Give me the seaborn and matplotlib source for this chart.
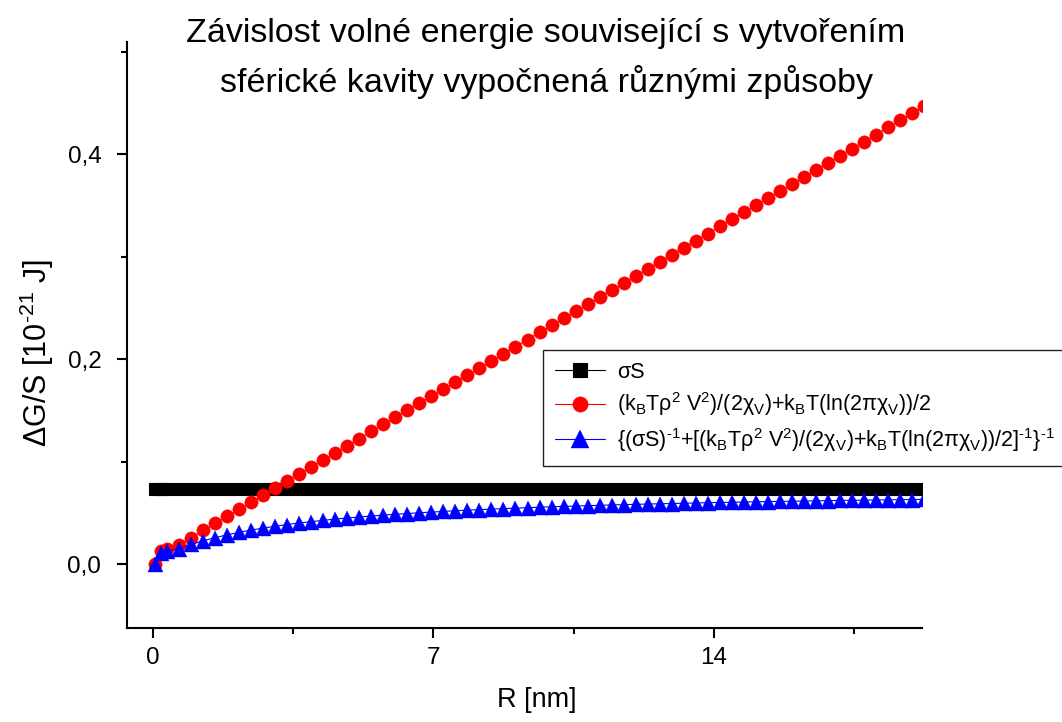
import matplotlib
matplotlib.use("Agg")
import matplotlib.pyplot as plt
import seaborn as sns
import pandas as pd

# Cavity radius [nm]
radius_nm = [
    0.05, 0.2, 0.35, 0.65, 0.95, 1.25, 1.55, 1.85, 2.15, 2.45, 2.75,
    3.05, 3.35, 3.65, 3.95, 4.25, 4.55, 4.85, 5.15, 5.45, 5.75, 6.05,
    6.35, 6.65, 6.95, 7.25, 7.55, 7.85, 8.15, 8.45, 8.75, 9.05, 9.35,
    9.65, 9.95, 10.25, 10.55, 10.85, 11.15, 11.45, 11.75, 12.05, 12.35,
    12.65, 12.95, 13.25, 13.55, 13.85, 14.15, 14.45, 14.75, 15.05, 15.35,
    15.65, 15.95, 16.25, 16.55, 16.85, 17.15, 17.45, 17.75, 18.05, 18.35,
    18.65, 18.95, 19.25,
]

# Surface term sigma*S per unit area [1e-21 J]
sigma_s = [
    0.0735, 0.0735, 0.0735, 0.0735, 0.0735, 0.0735, 0.0735, 0.0735, 0.0735, 0.0735, 0.0735,
    0.0735, 0.0735, 0.0735, 0.0735, 0.0735, 0.0735, 0.0735, 0.0735, 0.0735, 0.0735, 0.0735,
    0.0735, 0.0735, 0.0735, 0.0735, 0.0735, 0.0735, 0.0735, 0.0735, 0.0735, 0.0735, 0.0735,
    0.0735, 0.0735, 0.0735, 0.0735, 0.0735, 0.0735, 0.0735, 0.0735, 0.0735, 0.0735, 0.0735,
    0.0735, 0.0735, 0.0735, 0.0735, 0.0735, 0.0735, 0.0735, 0.0735, 0.0735, 0.0735, 0.0735,
    0.0735, 0.0735, 0.0735, 0.0735, 0.0735, 0.0735, 0.0735, 0.0735, 0.0735, 0.0735, 0.0735,
]

# Gaussian fluctuation (volume) term
volume_term = [
    0.0, 0.013, 0.015, 0.0190, 0.0259, 0.0328, 0.0397, 0.0466, 0.0535, 0.0604, 0.0673,
    0.0742, 0.0811, 0.0880, 0.0949, 0.1018, 0.1087, 0.1156, 0.1225, 0.1294, 0.1363, 0.1432,
    0.1501, 0.1570, 0.1639, 0.1708, 0.1777, 0.1846, 0.1915, 0.1984, 0.2053, 0.2122, 0.2191,
    0.2260, 0.2329, 0.2398, 0.2467, 0.2536, 0.2605, 0.2674, 0.2743, 0.2812, 0.2881, 0.2950,
    0.3019, 0.3088, 0.3157, 0.3226, 0.3295, 0.3364, 0.3433, 0.3502, 0.3571, 0.3640, 0.3709,
    0.3778, 0.3847, 0.3916, 0.3985, 0.4054, 0.4123, 0.4192, 0.4261, 0.4330, 0.4399, 0.4468,
]

# Interpolated (harmonic) combination of both terms
combined = [
    0.0, 0.011, 0.0125, 0.0151, 0.0192, 0.0227, 0.0258, 0.0285, 0.0310, 0.0332, 0.0351,
    0.0369, 0.0386, 0.0401, 0.0414, 0.0427, 0.0439, 0.0449, 0.0459, 0.0469, 0.0478, 0.0486,
    0.0493, 0.0501, 0.0507, 0.0514, 0.0520, 0.0526, 0.0531, 0.0536, 0.0541, 0.0546, 0.0550,
    0.0555, 0.0559, 0.0563, 0.0566, 0.0570, 0.0573, 0.0577, 0.0580, 0.0583, 0.0586, 0.0588,
    0.0591, 0.0594, 0.0596, 0.0599, 0.0601, 0.0603, 0.0605, 0.0608, 0.0610, 0.0612, 0.0613,
    0.0615, 0.0617, 0.0619, 0.0621, 0.0622, 0.0624, 0.0625, 0.0627, 0.0628, 0.0630, 0.0631,
]

xtick_values = [0, 7, 14]
xtick_labels = ["0", "7", "14"]
ytick_values = [0.0, 0.2, 0.4]
ytick_labels = ["0,0", "0,2", "0,4"]

# superscript "-1" written with a plain hyphen (U+2010) instead of the wide math minus
SUP_M1 = "$^\\mathregular{\u2010 1}$".replace(" ", "")
label_sigma = "σS"
label_volume = ("(k$_\\mathregular{B}$Tρ$^\\mathregular{2}$ V$^\\mathregular{2}$)/(2χ$_\\mathregular{V}$)"
                "+k$_\\mathregular{B}$T(ln(2πχ$_\\mathregular{V}$))/2")
label_combined = ("{(σS)" + SUP_M1 + "+[(k$_\\mathregular{B}$Tρ$^\\mathregular{2}$ V$^\\mathregular{2}$)"
                  "/(2χ$_\\mathregular{V}$)+k$_\\mathregular{B}$T(ln(2πχ$_\\mathregular{V}$))/2]"
                  + SUP_M1 + "}" + SUP_M1)
label_y = "ΔG/S [10$^\\mathregular{\u201021}$ J]"

title_text = ("Závislost volné energie související s vytvořením\n"
              "sférické kavity vypočnená různými způsoby")

df = pd.DataFrame({
    "R": radius_nm,
    "sigma_s": sigma_s,
    "volume": volume_term,
    "combined": combined,
})

sns.set_style("ticks")
plt.rcParams["font.family"] = ["Liberation Sans", "DejaVu Sans"]
plt.rcParams["mathtext.fontset"] = "custom"
plt.rcParams["mathtext.rm"] = "Liberation Sans"
for key in ("text.color", "axes.labelcolor", "xtick.color", "ytick.color", "axes.edgecolor"):
    plt.rcParams[key] = "black"

W, H = 1062, 722
fig = plt.figure(figsize=(W / 100, H / 100), dpi=100)
ax = fig.add_axes([127 / W, 1 - 628 / H, (922 - 127) / W, (628 - 42) / H])

common = dict(ax=ax, sort=False, estimator=None, linewidth=0.8, clip_on=True)
sns.lineplot(data=df, x="R", y="sigma_s", color="black", marker="s", markersize=8.4,
             markeredgecolor="black", markeredgewidth=0.8, label=label_sigma, **common)
sns.lineplot(data=df, x="R", y="volume", color="#ff0000", marker="o", markersize=9.6,
             markeredgecolor="#ff0000", markeredgewidth=0.3, label=label_volume, **common)
sns.lineplot(data=df, x="R", y="combined", color="#0000ff", marker="^", markersize=10.8,
             markeredgecolor="#0000ff", markeredgewidth=0.3, label=label_combined, **common)

ax.set_xlim(-0.65, 19.2)
ax.set_ylim(-0.0624, 0.5095)
ax.set_xticks(xtick_values)
ax.set_xticklabels(xtick_labels)
ax.set_xticks([3.5, 10.5, 17.5], minor=True)
ax.set_yticks(ytick_values)
ax.set_yticklabels(ytick_labels)
ax.set_yticks([0.1, 0.3, 0.5], minor=True)

for side in ("top", "right"):
    ax.spines[side].set_visible(False)
for side in ("left", "bottom"):
    ax.spines[side].set_linewidth(1.5)
    ax.spines[side].set_color("black")

ax.tick_params(axis="both", which="major", direction="out", length=7.5, width=1.5,
               labelsize=17.5, colors="black")
ax.tick_params(axis="y", which="major", pad=11)
ax.tick_params(axis="x", which="major", pad=6)
ax.tick_params(axis="both", which="minor", direction="out", length=4, width=1.5,
               colors="black")

ax.set_xlabel("R [nm]", fontsize=19.5)
ax.set_ylabel(label_y, fontsize=22)
ax.xaxis.set_label_coords((537 - 127) / (922 - 127), -(700 - 628) / (628 - 42))
ax.yaxis.set_label_coords(-(127 - 37) / (922 - 127), (628 - 353) / (628 - 42))
ax.xaxis.label.set_va("center")
ax.yaxis.label.set_va("center")

fig.text(546 / W, 1 - 18 / H, title_text, ha="center", va="top", fontsize=24.5,
         linespacing=1.6)

leg = ax.legend(loc="upper left", bbox_to_anchor=(543 / W, 1 - 350 / H),
                bbox_transform=fig.transFigure, fontsize=15.5, frameon=True,
                fancybox=False, shadow=False, borderaxespad=0, borderpad=0.55,
                handlelength=2.35, handletextpad=0.55, labelspacing=0.35,
                markerscale=1.15)
leg.get_frame().set_edgecolor("#222222")
leg.get_frame().set_linewidth(1.0)
leg.get_frame().set_alpha(1)

fig.savefig("out.png", dpi=100)
